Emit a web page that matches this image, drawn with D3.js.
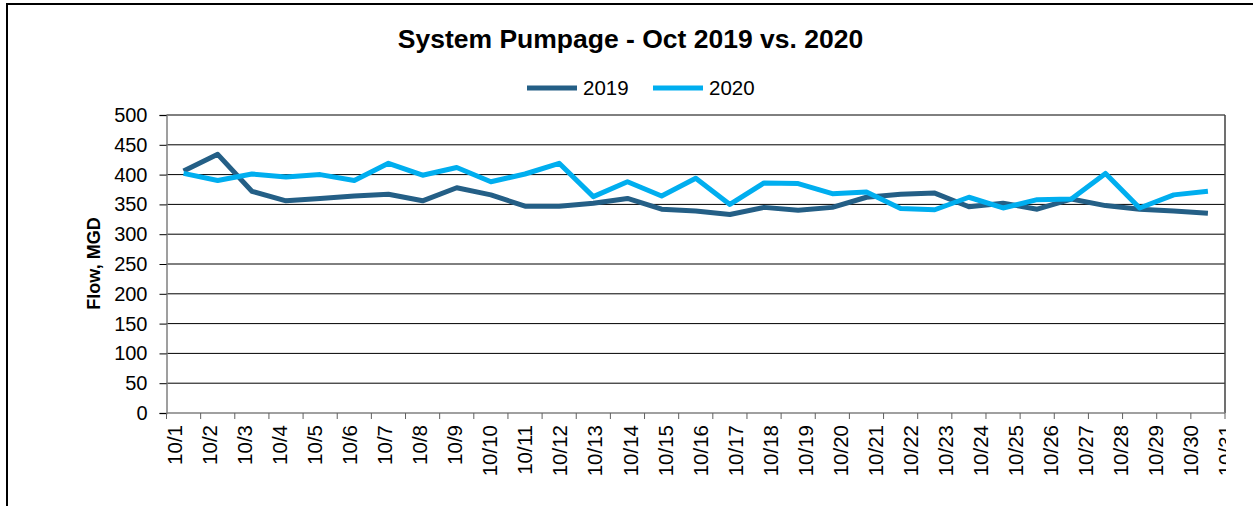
<!DOCTYPE html>
<html lang="en">
<head>
  <meta charset="UTF-8">
  <title>System Pumpage - Oct 2019 vs. 2020</title>
  <script src="https://d3js.org/d3.v7.min.js"></script>
  <style>
    body { margin: 0; padding: 0; overflow: hidden; background: #fff; }
    text { font-family: Arial, "Liberation Sans", sans-serif; fill: #000; }
  </style>
</head>
<body>
  <svg id="chart" width="1253" height="506"></svg>

  <script>
    // Data
    const days = d3.range(1, 32).map(d => "10/" + d);
    const flow2019 = [406, 434, 372, 356, 360, 364, 367, 356, 378, 366, 347, 347, 352, 360, 342, 339,
                      333, 345, 340, 345, 362, 367, 369, 346, 352, 342, 359, 348, 342, 339, 335];
    const flow2020 = [402, 390, 401, 396, 400, 390, 419, 399, 412, 388, 401, 419, 363, 388, 364, 394,
                      350, 386, 385, 368, 371, 343, 341, 362, 344, 358, 359, 402, 344, 366, 372];
    const yTicks = [0, 50, 100, 150, 200, 250, 300, 350, 400, 450, 500];
    const seriesNames = ["2019", "2020"];
    const colors = ["#245f86", "#00aeef"];

    const svg = d3.select("#chart");

    // outer chart frame (right/bottom edges fall outside the picture)
    svg.append("rect")
      .attr("x", 7).attr("y", 4)
      .attr("width", 1260).attr("height", 520)
      .attr("fill", "none").attr("stroke", "#000").attr("stroke-width", 2);

    const plot = { left: 166.5, right: 1225, top: 115, bottom: 413 };

    const x = d3.scaleBand().domain(days).range([plot.left, plot.right]).padding(0);
    // category labels are spread slightly wider than the bands
    const xLabel = d3.scalePoint().domain(days).range([174.5, 1226]);
    const y = d3.scaleLinear().domain([0, 500]).range([plot.bottom, plot.top]);

    // horizontal gridlines
    svg.append("g")
      .selectAll("line")
      .data(yTicks.slice(1))
      .join("line")
      .attr("x1", plot.left).attr("x2", plot.right)
      .attr("y1", d => y(d)).attr("y2", d => y(d))
      .attr("stroke", "#000").attr("stroke-width", 1);

    // right edge of plot area
    svg.append("line")
      .attr("x1", plot.right).attr("x2", plot.right)
      .attr("y1", plot.top).attr("y2", plot.bottom)
      .attr("stroke", "#404040").attr("stroke-width", 1.5);

    // y axis
    const yAxis = svg.append("g")
      .attr("transform", `translate(${plot.left},0)`)
      .call(d3.axisLeft(y).tickValues(yTicks).tickSize(7).tickPadding(12));
    yAxis.select(".domain").attr("stroke", "#808080").attr("stroke-width", 1.5);
    yAxis.selectAll(".tick line").attr("stroke", "#000");
    yAxis.selectAll("text").attr("font-size", 20).attr("fill", "#000");

    // x axis: ticks on band boundaries
    svg.append("line")
      .attr("x1", plot.left).attr("x2", plot.right)
      .attr("y1", plot.bottom).attr("y2", plot.bottom)
      .attr("stroke", "#808080").attr("stroke-width", 1.5);
    svg.append("g")
      .selectAll("line")
      .data(days.concat(["end"]))
      .join("line")
      .attr("x1", (d, i) => i < days.length ? x(d) : plot.right)
      .attr("x2", (d, i) => i < days.length ? x(d) : plot.right)
      .attr("y1", plot.bottom).attr("y2", plot.bottom + 6)
      .attr("stroke", "#606060");

    svg.append("clipPath").attr("id", "labelClip")
      .append("rect").attr("x", 0).attr("y", 0).attr("width", 1226).attr("height", 506);

    svg.append("g")
      .attr("clip-path", "url(#labelClip)")
      .selectAll("text")
      .data(days)
      .join("text")
      .attr("transform", d => `translate(${xLabel(d)},425) rotate(-90)`)
      .attr("text-anchor", "end")
      .attr("dy", "0.36em")
      .attr("font-size", 20.5)
      .text(d => d);

    // lines
    const line = d3.line()
      .x((d, i) => x(days[i]) + x.bandwidth() / 2)
      .y(d => y(d));

    [flow2019, flow2020].forEach((s, k) => {
      svg.append("path")
        .datum(s)
        .attr("fill", "none")
        .attr("stroke", colors[k])
        .attr("stroke-width", 5)
        .attr("stroke-linejoin", "round")
        .attr("d", line);
    });

    // title
    svg.append("text")
      .attr("x", 630.5).attr("y", 48)
      .attr("text-anchor", "middle")
      .attr("font-size", 26.5)
      .attr("font-weight", "bold")
      .text("System Pumpage - Oct 2019 vs. 2020");

    // legend
    const legendX = [527, 653];
    seriesNames.forEach((name, k) => {
      svg.append("line")
        .attr("x1", legendX[k]).attr("x2", legendX[k] + 50)
        .attr("y1", 88).attr("y2", 88)
        .attr("stroke", colors[k]).attr("stroke-width", 5);
      svg.append("text")
        .attr("x", legendX[k] + 56).attr("y", 95)
        .attr("font-size", 20.5)
        .text(name);
    });

    // y axis title
    svg.append("text")
      .attr("transform", "translate(100,263.5) rotate(-90)")
      .attr("text-anchor", "middle")
      .attr("font-size", 18)
      .attr("font-weight", "bold")
      .text("Flow, MGD");
  </script>
</body>
</html>
